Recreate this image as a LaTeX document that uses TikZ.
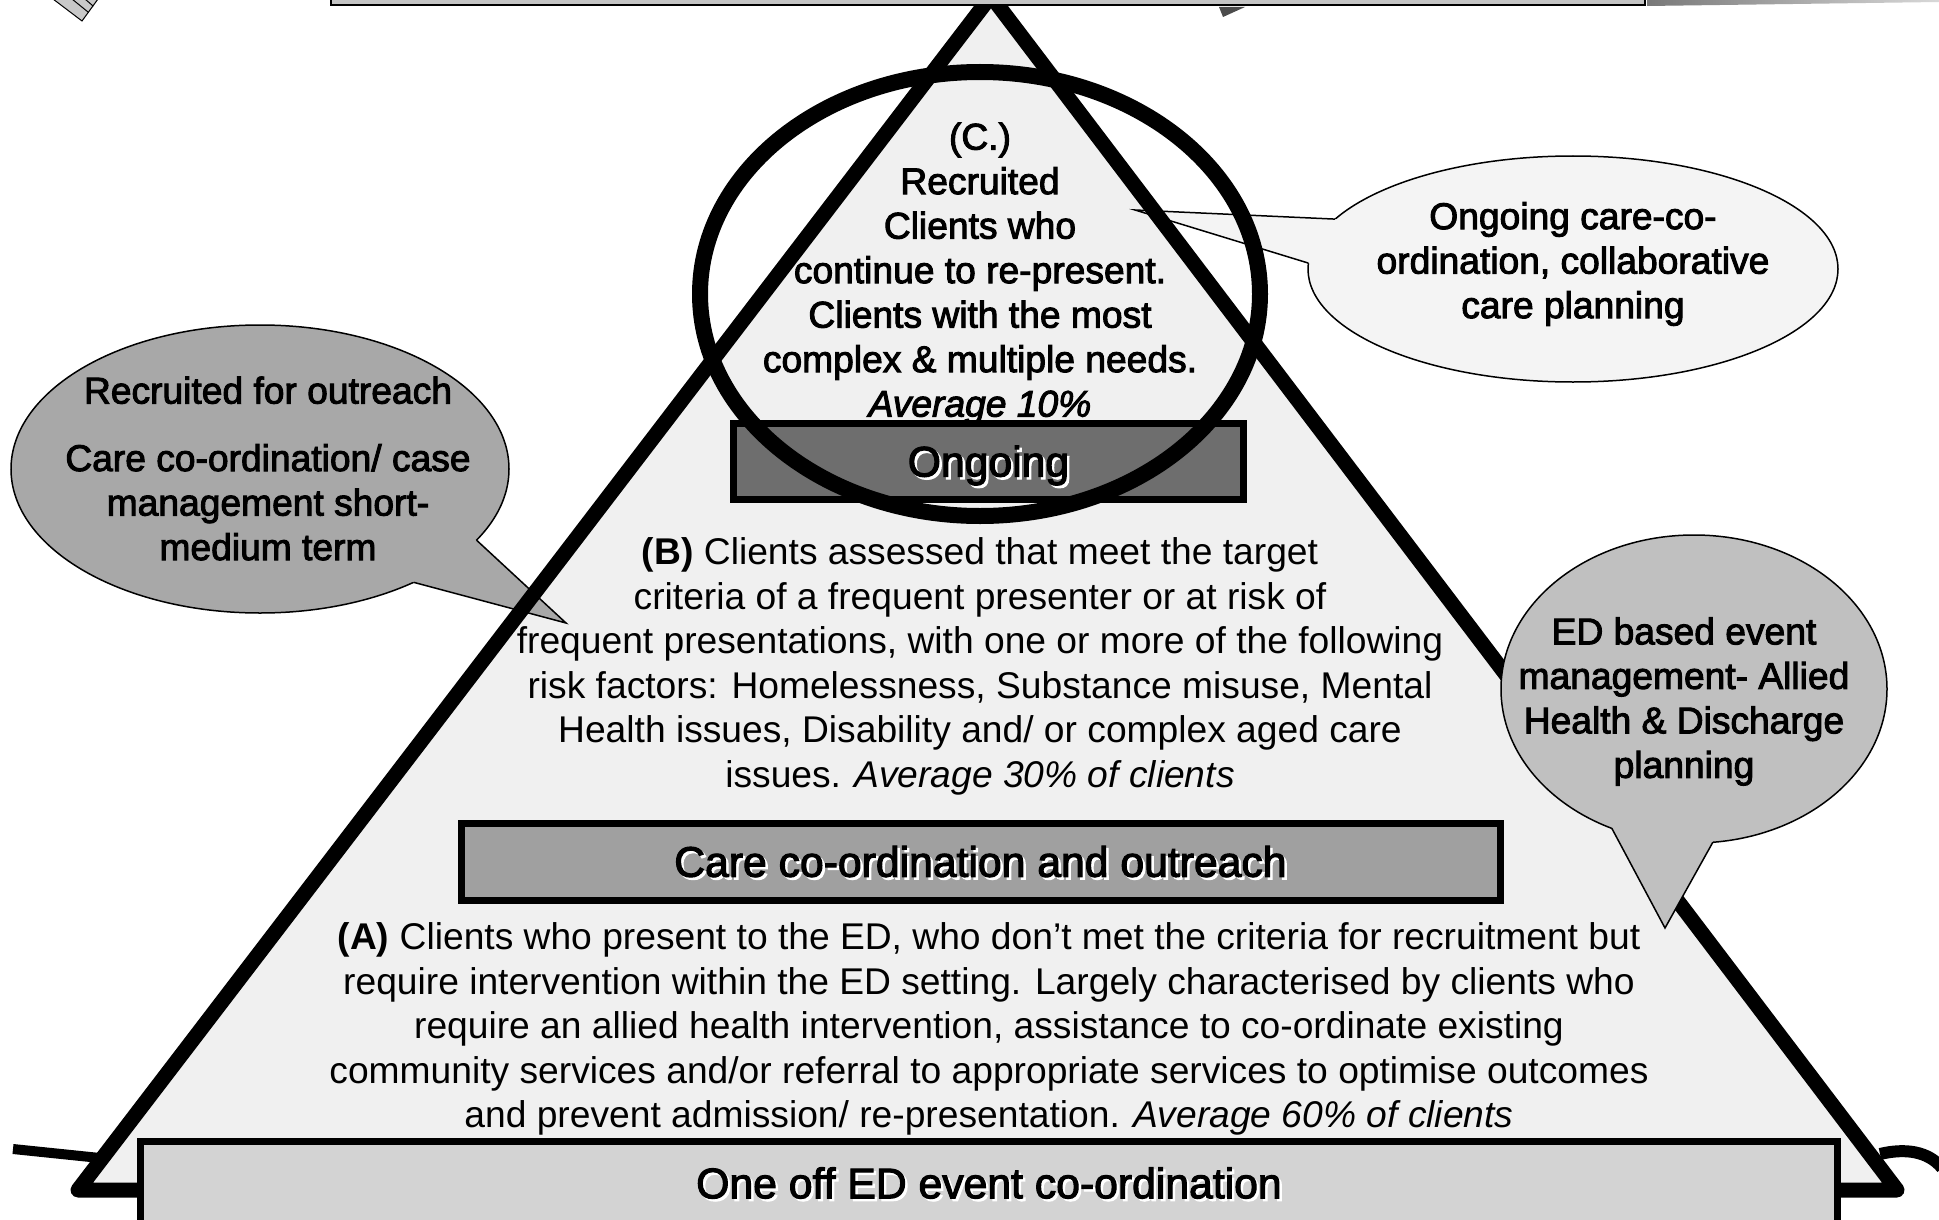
\documentclass[tikz,border=0pt]{standalone}
\usepackage{fontspec}
\setmainfont{Liberation Sans}
\newfontfamily\heavyfont[FakeBold=2.6]{Liberation Sans}
\usetikzlibrary{calc}
\definecolor{trifill}{HTML}{F0F0F0}
\definecolor{lcfill}{HTML}{A8A8A8}
\definecolor{rtfill}{HTML}{F4F4F4}
\definecolor{edfill}{HTML}{C0C0C0}
\definecolor{carefill}{HTML}{A0A0A0}
\definecolor{ongfill}{HTML}{6E6E6E}
\definecolor{onefill}{HTML}{D3D3D3}
\definecolor{topfill}{HTML}{C4C4C4}
\definecolor{gradL}{HTML}{787878}
\definecolor{gradR}{HTML}{D8D8D8}
\definecolor{hatch}{HTML}{C8C8C8}
\begin{document}
\begin{tikzpicture}[x=1pt,y=-1pt,
  bodytxt/.style={align=center,inner sep=0pt,font=\fontsize{37.2}{44.5}\selectfont},
  heavytxt/.style={align=center,inner sep=0pt,font=\heavyfont\fontsize{37.2}{44.5}\selectfont},
  labtxt/.style={inner sep=0pt,font=\heavyfont\fontsize{42.7}{50}\selectfont},
  shadowtxt/.style={labtxt,text=white},
  barbox/.style={draw=black,line width=7pt,inner sep=0pt,rectangle},
  bubble/.style={draw=black,line width=1.5pt},
  thickline/.style={line width=15pt,line join=round}
]
\useasboundingbox (0,0) rectangle (1939,1220);
\clip (0,0) rectangle (1939,1220);
\fill[white] (0,0) rectangle (1939,1220);

% pyramid corners
\coordinate (apex) at (991,-4);
\coordinate (bl) at (78,1190);
\coordinate (br) at (1897,1190);
\fill[trifill] (apex) -- (bl) -- (br) -- cycle;

% left callout
\coordinate (lc) at (260,469);
\coordinate (lp1) at ($(lc)+(29.6:249 and 144)$);
\coordinate (lp2) at ($(lc)+(51.9:249 and 144)$);
\coordinate (ltip) at (566,623);
\fill[lcfill] (lc) ellipse[x radius=249,y radius=144];
\draw[bubble] (lc) ellipse[x radius=249,y radius=144];
\fill[lcfill] (lp1) -- (ltip) -- (lp2) -- (lc) -- cycle;
\draw[bubble] (lp1) -- (ltip) -- (lp2);

% top right callout
\coordinate (rc) at (1573,269);
\coordinate (rp1) at ($(rc)+(206.2:265 and 113)$);
\coordinate (rp2) at ($(rc)+(183:265 and 113)$);
\coordinate (rtip) at (1135,210);
\fill[rtfill] (rc) ellipse[x radius=265,y radius=113];
\draw[bubble] (rc) ellipse[x radius=265,y radius=113];
\fill[rtfill] (rp1) -- (rtip) -- (rp2) -- (rc) -- cycle;
\draw[bubble] (rp1) -- (rtip) -- (rp2);

% stubs
\coordinate (ls0) at (13,1149);
\coordinate (ls1) at (100,1158);
\draw[line width=10pt] (ls0) -- (ls1);
\coordinate (rs0) at (1880,1154);
\coordinate (rs1) at (1942,1168);
\draw[line width=12pt] (rs0) .. controls (1905,1148) and (1928,1151) .. (rs1);

% pyramid outline
\draw[thickline] (apex) -- (bl) -- (br) -- cycle;

% top remnants
\fill[topfill] (331,-20) rectangle (1645,5);
\draw[line width=2.5pt] (331,-20) rectangle (1645,5);
\shade[left color=gradL,right color=gradR] (1647,-1) -- (1939,-1) -- (1939,2) -- (1647,6) -- cycle;
\fill[black!70] (1219,7) -- (1245,7) -- (1223,17) -- cycle;
\filldraw[fill=hatch,line width=1pt] (53,-1) -- (82,21) -- (98,-1) -- cycle;
\draw[line width=1pt] (72,-1) -- (88.5,12.4) (85,-1) -- (93.3,6.2);

% bars
\node[barbox,fill=onefill,minimum width=1697,minimum height=99] (onebox) at (989,1191) {};
\node[barbox,fill=carefill,minimum width=1039,minimum height=77] (carebox) at (980.5,861.5) {};

% texts
\node[heavytxt] (ctext) at (980,273.5) {(C.)\\Recruited\\Clients who\\continue to re-present.\\Clients with the most\\complex \& multiple needs.\\\textit{Average 10\%}};
\node[bodytxt] (btext) at (980,666.5) {\textbf{(B)} Clients assessed that meet the target\\criteria of a frequent presenter or at risk of\\frequent presentations, with one or more of the following\\risk factors: Homelessness, Substance misuse, Mental\\Health issues, Disability and/ or complex aged care\\issues. \textit{Average 30\% of clients}};
\node[bodytxt] (atext) at (989,1029) {\textbf{(A)} Clients who present to the ED, who don’t met the criteria for recruitment but\\require intervention within the ED setting. Largely characterised by clients who\\require an allied health intervention, assistance to co-ordinate existing\\community services and/or referral to appropriate services to optimise outcomes\\and prevent admission/ re-presentation. \textit{Average 60\% of clients}};

\node[barbox,fill=ongfill,minimum width=510,minimum height=76] (ongbox) at (988.5,461.5) {};

% bar labels with light shadow
\node[shadowtxt] (ongsh) at ($(ongbox.center)+(2.5,6.5)$) {Ongoing};
\node[labtxt] (onglab) at ($(ongbox.center)+(0,4)$) {Ongoing};
\node[shadowtxt] (caresh) at ($(carebox.center)+(2.5,2.5)$) {Care co-ordination and outreach};
\node[labtxt] (carelab) at (carebox.center) {Care co-ordination and outreach};
\node[shadowtxt] (onesh) at (991.5,1185.5) {One off ED event co-ordination};
\node[labtxt] (onelab) at (989,1183) {One off ED event co-ordination};

% big ring
\draw[line width=16pt] (980,294) ellipse[x radius=280,y radius=222];

% callout texts
\node[heavytxt] (ltext) at (268,468.5) {Recruited for outreach\\[23pt]Care co-ordination/ case\\management short-\\medium term};
\node[heavytxt] (rtext) at (1573,264) {Ongoing care-co-\\ordination, collaborative\\care planning};

% ED callout
\coordinate (ec) at (1694,689);
\coordinate (ep1) at ($(ec)+(115.2:193 and 154)$);
\coordinate (ep2) at ($(ec)+(84.4:193 and 154)$);
\coordinate (etip) at (1665,928);
\fill[edfill] (ec) ellipse[x radius=193,y radius=154];
\draw[bubble] (ec) ellipse[x radius=193,y radius=154];
\fill[edfill] (ep1) -- (etip) -- (ep2) -- (ec) -- cycle;
\draw[bubble] (ep1) -- (etip) -- (ep2);
\node[heavytxt] (etext) at (1684,701.5) {ED based event\\management- Allied\\Health \& Discharge\\planning};
\end{tikzpicture}
\end{document}
